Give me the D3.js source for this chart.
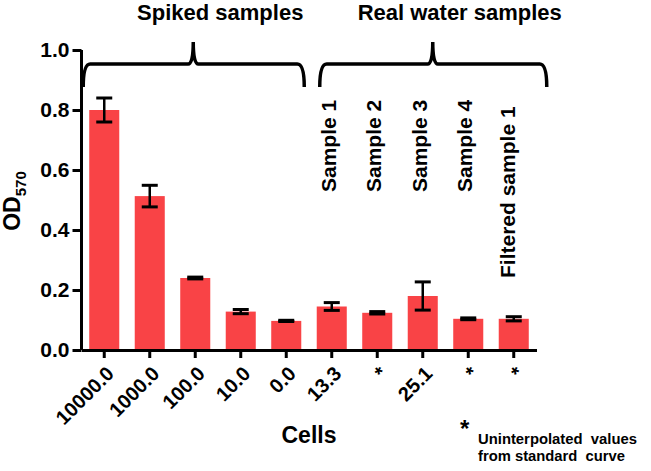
<!DOCTYPE html>
<html>
<head>
<meta charset="utf-8">
<script src="https://cdn.jsdelivr.net/npm/d3@7"></script>
<style>
  body { margin: 0; background: #fff; }
  text { font-family: "Liberation Sans", Arial, sans-serif; font-weight: bold; fill: #000; }
</style>
</head>
<body>
<script>
"use strict";

// values
const cells = ["10000.0", "1000.0", "100.0", "10.0", "0.0", "13.3", "*", "25.1", "*", "*"];
const od = [0.800, 0.513, 0.240, 0.128, 0.097, 0.145, 0.124, 0.180, 0.104, 0.104];
const err = [0.040, 0.036, 0.003, 0.007, 0.002, 0.013, 0.004, 0.047, 0.003, 0.007];
const sampleNames = ["Sample 1", "Sample 2", "Sample 3", "Sample 4", "Filtered sample 1"];
const yTicks = [0.0, 0.2, 0.4, 0.6, 0.8, 1.0];
const groups = [
    {name: "Spiked samples", first: 0, last: 4},
    {name: "Real water samples", first: 5, last: 9}
];

const width = 651, height = 471;
const svg = d3.select("body").append("svg")
    .attr("width", width)
    .attr("height", height);

const x = d3.scaleBand()
    .domain(d3.range(cells.length))
    .range([81.5, 536.5])
    .paddingInner(0.34)
    .paddingOuter(0.17);

const y = d3.scaleLinear()
    .domain([0, 1])
    .range([350, 50]);

// bars
svg.selectAll("rect.bar")
    .data(od)
    .enter()
    .append("rect")
    .attr("class", "bar")
    .attr("x", (d, i) => x(i))
    .attr("y", d => y(d))
    .attr("width", x.bandwidth())
    .attr("height", d => y(0) - y(d))
    .attr("fill", "#f94346");

// error bars
const eb = svg.selectAll("g.err")
    .data(od)
    .enter()
    .append("g")
    .attr("class", "err")
    .attr("transform", (d, i) => "translate(" + (x(i) + x.bandwidth() / 2) + ",0)");
eb.append("line")
    .attr("y1", (d, i) => y(d + err[i]))
    .attr("y2", (d, i) => y(d - err[i]))
    .attr("stroke", "#000")
    .attr("stroke-width", 2.5);
eb.selectAll("line.cap")
    .data((d, i) => [d + err[i], d - err[i]])
    .enter()
    .append("line")
    .attr("class", "cap")
    .attr("x1", -8).attr("x2", 8)
    .attr("y1", d => y(d)).attr("y2", d => y(d))
    .attr("stroke", "#000")
    .attr("stroke-width", 3);

// y axis
const yAxis = svg.append("g")
    .attr("transform", "translate(81.5,0)")
    .call(d3.axisLeft(y).tickValues(yTicks).tickFormat(d3.format(".1f")).tickSize(9).tickPadding(3));
yAxis.select(".domain").attr("d", "M0," + y(1) + "V" + y(0)).attr("stroke-width", 3);
yAxis.selectAll(".tick line").attr("stroke-width", 3);
yAxis.selectAll(".tick text")
    .attr("font-size", 21)
    .style("font-family", "\"Liberation Sans\", Arial, sans-serif")
    .style("font-weight", "bold");

// x axis
const xAxis = svg.append("g")
    .attr("transform", "translate(0,350)")
    .call(d3.axisBottom(x).tickFormat(i => cells[i]).tickSize(8).tickSizeOuter(0));
xAxis.select(".domain").attr("stroke-width", 3);
xAxis.selectAll(".tick line").attr("stroke-width", 3);
xAxis.selectAll(".tick text")
    .attr("font-size", 20)
    .style("font-family", "\"Liberation Sans\", Arial, sans-serif")
    .style("font-weight", "bold")
    .attr("text-anchor", "end")
    .attr("y", 0)
    .attr("dy", "0.35em")
    .attr("transform", "translate(6,20) rotate(-45)");

// brackets above the groups
function bracketPath(x0, x1, peak) {
    var top = 64, bottom = 87, tip = 42;
    return "M" + x0 + "," + bottom +
        "Q" + x0 + "," + top + " " + (x0 + 7) + "," + top +
        "L" + (peak - 5) + "," + top +
        "Q" + peak + "," + top + " " + peak + "," + tip +
        "Q" + peak + "," + top + " " + (peak + 5) + "," + top +
        "L" + (x1 - 7) + "," + top +
        "Q" + x1 + "," + top + " " + x1 + "," + bottom;
}
groups.forEach(function(g, k) {
    var x0 = x(g.first) - (k === 0 ? 6 : -3);
    var x1 = x(g.last) + x.bandwidth() + (k === 0 ? 3 : 18);
    var peak = (x0 + x1) / 2 - 0.5;
    svg.append("path")
        .attr("d", bracketPath(x0, x1, peak))
        .attr("fill", "none")
        .attr("stroke", "#000")
        .attr("stroke-width", 3.5);
    svg.append("text")
        .attr("x", peak + 27)
        .attr("y", 20)
        .attr("text-anchor", "middle")
        .attr("font-size", 22)
        .text(g.name);
});

// vertical sample names over the real water bars
svg.selectAll("text.sample")
    .data(sampleNames)
    .enter()
    .append("text")
    .attr("class", "sample")
    .attr("font-size", 21)
    .attr("transform", function(d, i) {
        var cx = x(i + 5) + x.bandwidth() / 2 + 4 - (i === 4 ? 3 : 0);
        var bottom = i === 4 ? 278 : 192;
        return "translate(" + cx + "," + bottom + ") rotate(-90)";
    })
    .text(d => d);

// axis titles
const yLabel = svg.append("text")
    .attr("transform", "translate(20,201) rotate(-90)")
    .attr("text-anchor", "middle")
    .attr("font-size", 23);
yLabel.append("tspan").text("OD");
yLabel.append("tspan").attr("font-size", 15).attr("dy", 6).text("570");

svg.append("text")
    .attr("x", 309)
    .attr("y", 443)
    .attr("text-anchor", "middle")
    .attr("font-size", 23)
    .text("Cells");

// footnote
svg.append("text")
    .attr("x", 460)
    .attr("y", 437)
    .attr("font-size", 24)
    .text("*");
svg.append("text")
    .attr("x", 478)
    .attr("y", 444)
    .attr("font-size", 15)
    .attr("textLength", 159)
    .attr("lengthAdjust", "spacingAndGlyphs")
    .attr("xml:space", "preserve")
    .text("Uninterpolated  values");
svg.append("text")
    .attr("x", 478)
    .attr("y", 461)
    .attr("font-size", 15)
    .attr("textLength", 147)
    .attr("lengthAdjust", "spacingAndGlyphs")
    .attr("xml:space", "preserve")
    .text("from standard  curve");
</script>
</body>
</html>
